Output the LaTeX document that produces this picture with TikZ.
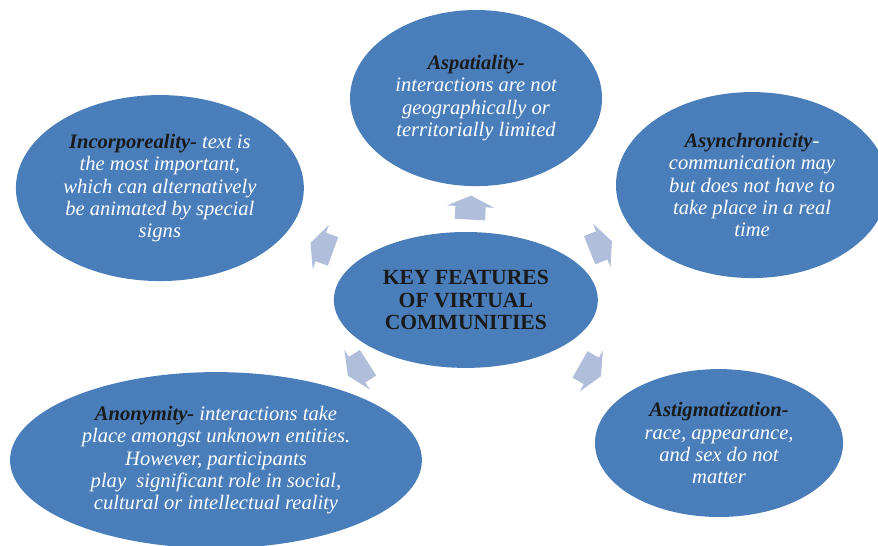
\documentclass[tikz,border=0pt]{standalone}
\usepackage{fontspec}
\setmainfont{Liberation Serif}
\usetikzlibrary{shapes.geometric,shapes.arrows}
\definecolor{featblue}{RGB}{74,126,187}
\definecolor{spokeblue}{RGB}{176,190,220}
\definecolor{headblack}{RGB}{26,26,26}
\newcommand{\feat}[1]{\textbf{\color{headblack}#1}}

\begin{document}
\begin{tikzpicture}[
        bubble/.style={ellipse, fill=featblue, inner sep=0pt, align=center,
            text=white, font=\fontsize{19.5}{21}\selectfont\itshape},
        spoke/.style={single arrow, fill=spokeblue, inner xsep=0pt, inner ysep=0.5cm,
            minimum height=0.8cm, single arrow head extend=0.28cm,
            single arrow tip angle=130, sloped, allow upside down}
    ]
        \useasboundingbox (0,0) rectangle (29.27,18.17);
        \clip (0,0) rectangle (29.27,18.17);
        %% middle
        \node[bubble, minimum width=8.8cm, minimum height=4.53cm, text=headblack,
            font=\fontsize{20.5}{21.5}\selectfont\bfseries] (key) at (15.53,8.17)
            {KEY FEATURES\\OF VIRTUAL\\COMMUNITIES};
        %% the five features
        \node[bubble, minimum width=8.4cm, minimum height=5.87cm] (spat) at (15.87,14.9)
            {\feat{Aspatiality-}\\interactions are not\\geographically or\\territorially limited};
        \node[bubble, minimum width=9.6cm, minimum height=6.2cm] (incorp) at (5.33,11.9)
            {\feat{Incorporeality-} text is\\the most important,\\which can alternatively\\be animated by special\\signs};
        \node[bubble, minimum width=9.07cm, minimum height=6.2cm] (async) at (25.07,12.0)
            {\feat{Asynchronicity}-\\communication may\\but does not have to\\take place in a real\\time};
        \node[bubble, minimum width=13.73cm, minimum height=5.87cm] (anon) at (7.2,2.83)
            {\feat{Anonymity-} interactions take\\place amongst unknown entities.\\However, participants\\play\ \ significant role in social,\\cultural or intellectual reality};
        \node[bubble, minimum width=8.27cm, minimum height=4.93cm] (astig) at (23.97,3.4)
            {\feat{Astigmatization-}\\race, appearance,\\and sex do not\\matter};
        %% arrows out of the middle
        \path (key.center) -- (spat.center) node[spoke, pos=0.44] (toSpat) {};
        \path (key.center) -- (incorp.center) node[spoke, pos=0.46] (toIncorp) {};
        \path (key.center) -- (async.center) node[spoke, pos=0.46] (toAsync) {};
        \path (key.center) -- (anon.center) node[spoke, pos=0.42] (toAnon) {};
        \path (key.center) -- (astig.center) node[spoke, pos=0.48] (toAstig) {};
    \end{tikzpicture}
\end{document}
